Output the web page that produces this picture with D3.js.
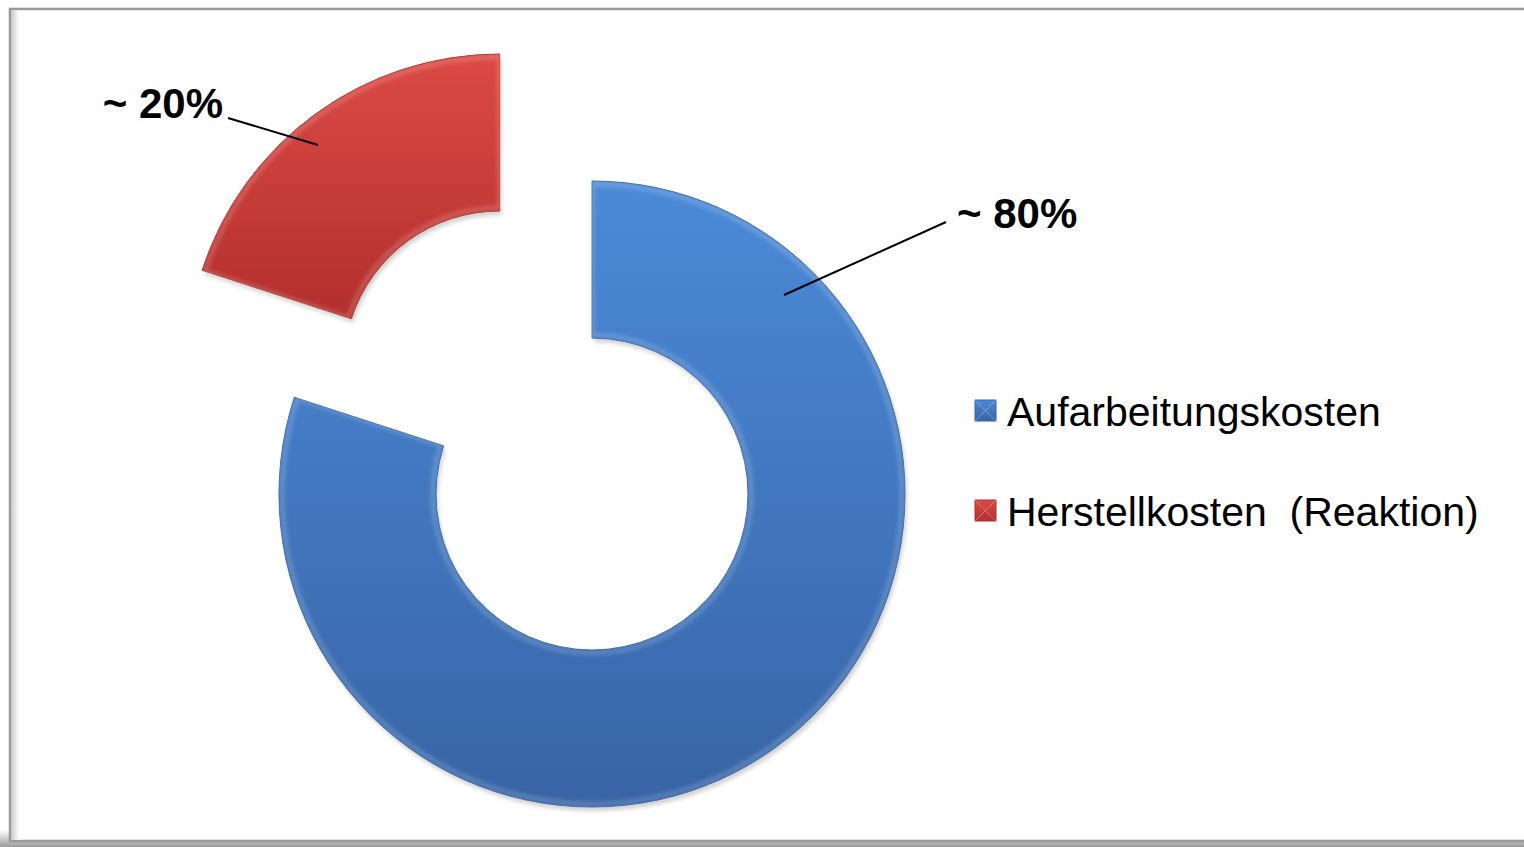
<!DOCTYPE html>
<html>
<head>
<meta charset="utf-8">
<script src="https://cdn.jsdelivr.net/npm/d3@7"></script>
<style>
  body { margin: 0; background: #fff; }
  svg { display: block; }
</style>
</head>
<body>
<div id="chart"></div>
<script>
// categories and values
const categories = ["Aufarbeitungskosten", "Herstellkosten  (Reaktion)"]
const values = [80, 20]
const labels = ["~ 80%", "~ 20%"]
const colorsTop = ["#4b8ad8", "#dc4a44"]
const colorsBottom = ["#3864a6", "#b22f2d"]

const W = 1524, H = 847
const cx = 592, cy = 494
const rOut = 313, rIn = 156
const explode = 157

const svg = d3.select("#chart")
  .append("svg")
    .attr("width", W)
    .attr("height", H)

const defs = svg.append("defs")

// frame shadow
const sh = defs.append("linearGradient")
  .attr("id", "shadowB").attr("x1", 0).attr("y1", 0).attr("x2", 0).attr("y2", 1)
sh.append("stop").attr("offset", 0).attr("stop-color", "#fff")
sh.append("stop").attr("offset", 1).attr("stop-color", "#9a9a9a")
const shl = defs.append("linearGradient")
  .attr("id", "shadowL").attr("x1", 1).attr("y1", 0).attr("x2", 0).attr("y2", 0)
shl.append("stop").attr("offset", 0).attr("stop-color", "#fff")
shl.append("stop").attr("offset", 1).attr("stop-color", "#c8c8c8")

svg.append("rect")
  .attr("x", 0).attr("y", 830).attr("width", W).attr("height", 17)
  .attr("fill", "url(#shadowB)")
svg.append("rect")
  .attr("x", 10).attr("y", 9).attr("width", W + 20).attr("height", 832)
  .attr("fill", "#fff")
  .attr("stroke", "#999").attr("stroke-width", 2.5)
svg.append("rect")
  .attr("x", 11).attr("y", 10).attr("width", 8).attr("height", 830)
  .attr("fill", "url(#shadowL)")

// segment gradients (vertical, like the reference)
values.forEach((v, i) => {
  const g = defs.append("linearGradient")
    .attr("id", "grad" + i)
    .attr("x1", 0).attr("y1", 0).attr("x2", 0).attr("y2", 1)
  g.append("stop").attr("offset", 0).attr("stop-color", colorsTop[i])
  g.append("stop").attr("offset", 1).attr("stop-color", colorsBottom[i])
})

const blur = defs.append("filter").attr("id", "soft")
  .attr("x", "-10%").attr("y", "-10%").attr("width", "120%").attr("height", "120%")
blur.append("feGaussianBlur").attr("stdDeviation", 2)

const pie = d3.pie().sort(null).value(d => d)
const arcs = pie(values)

const arc = d3.arc().innerRadius(rIn).outerRadius(rOut)
const bevel = d3.arc().innerRadius(rIn + 3).outerRadius(rOut - 3)

const g = svg.append("g").attr("transform", `translate(${cx},${cy})`)

const seg = g.selectAll("g.seg")
  .data(arcs)
  .enter()
  .append("g")
    .attr("class", "seg")
    .attr("transform", (d, i) => {
      if (i === 0) return null
      const a = (d.startAngle + d.endAngle) / 2
      return `translate(${Math.sin(a) * explode},${-Math.cos(a) * explode})`
    })

// soft shadow
seg.append("path")
  .attr("d", arc)
  .attr("fill", "#000")
  .attr("opacity", 0.18)
  .attr("transform", "translate(2,4)")
  .attr("filter", "url(#soft)")

seg.append("path")
  .attr("d", arc)
  .attr("fill", (d, i) => `url(#grad${i})`)
  .attr("stroke", (d, i) => colorsBottom[i])
  .attr("stroke-width", 1)

// bevel highlight
seg.append("path")
  .attr("d", bevel)
  .attr("fill", "none")
  .attr("stroke", "#fff")
  .attr("stroke-opacity", 0.22)
  .attr("stroke-width", 4)
  .attr("filter", "url(#soft)")

// data labels with leader lines
const labelPos = [
  { tx: 957, ty: 228, anchor: "start", x1: 946, y1: 222, x2: 784, y2: 295 },
  { tx: 223, ty: 118, anchor: "end", x1: 228, y1: 118, x2: 318, y2: 145 }
]

svg.selectAll("line.leader")
  .data(labelPos)
  .enter()
  .append("line")
    .attr("class", "leader")
    .attr("x1", d => d.x1).attr("y1", d => d.y1)
    .attr("x2", d => d.x2).attr("y2", d => d.y2)
    .attr("stroke", "#000").attr("stroke-width", 2)

svg.selectAll("text.lbl")
  .data(labels)
  .enter()
  .append("text")
    .attr("class", "lbl")
    .attr("x", (d, i) => labelPos[i].tx)
    .attr("y", (d, i) => labelPos[i].ty)
    .attr("text-anchor", (d, i) => labelPos[i].anchor)
    .attr("font-family", "Liberation Sans, Arial, sans-serif")
    .attr("font-weight", "bold")
    .attr("font-size", 42)
    .attr("fill", "#000")
    .text(d => d)

// legend
const leg = svg.selectAll("g.leg")
  .data(categories)
  .enter()
  .append("g")
    .attr("class", "leg")
    .attr("transform", (d, i) => `translate(975,${400 + i * 100})`)

leg.append("rect")
  .attr("width", 21).attr("height", 21)
  .attr("fill", (d, i) => `url(#grad${i})`)
  .attr("stroke", (d, i) => colorsBottom[i])

leg.append("path")
  .attr("d", "M0,0L10.5,10.5L21,0M0,21L10.5,10.5L21,21")
  .attr("fill", "none")
  .attr("stroke", "#fff").attr("stroke-opacity", 0.3)

leg.append("text")
  .attr("x", 32)
  .attr("y", 26)
  .attr("font-family", "Liberation Sans, Arial, sans-serif")
  .attr("font-size", 41)
  .attr("fill", "#000")
  .style("white-space", "pre")
  .text(d => d)
</script>
</body>
</html>
